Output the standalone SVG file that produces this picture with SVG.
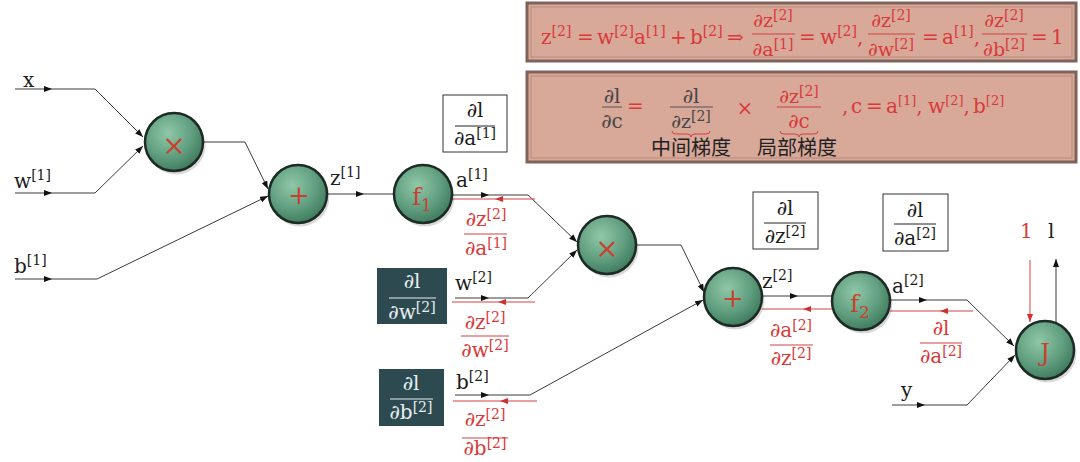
<svg xmlns="http://www.w3.org/2000/svg" width="1080" height="462" viewBox="0 0 1080 462">
<style>
.m{font-family:"DejaVu Serif","Liberation Serif",serif;font-size:20px}
.p{font-size:19px}
.k{fill:#1c1c1c}
.r{fill:#d83a3a}
.g{fill:#474747}
.wt{fill:#e6eef0}
.s{font-size:14px}
.t{font-size:13px}
.c{text-anchor:middle}
.cjk{font-family:"Noto Sans CJK SC",sans-serif;font-size:20px;fill:#222}
.ln{fill:none;stroke:#3a3a3a;stroke-width:1}
.lr{fill:none;stroke:#d04040;stroke-width:1}
.bk{stroke:#222;stroke-width:1}
.br{stroke:#d04040;stroke-width:1}
.bw{stroke:#e6eef0;stroke-width:1}
.node{fill:url(#ng);stroke:#1d2b24;stroke-width:2.5}
.sh{fill:#000;opacity:0.15}
.op{font-family:"DejaVu Serif",serif;fill:#c8402e;text-anchor:middle}
.panel{fill:#d8a899;stroke:#7f635b;stroke-width:3}
.pin{fill:none;stroke:#b68c80;stroke-width:1}
.wbox{fill:#fff;stroke:#333;stroke-width:1}
.dbox{fill:#2d4a50}
</style>
<defs>
<radialGradient id="ng" cx="40%" cy="35%" r="70%">
<stop offset="0" stop-color="#90c8a8"/>
<stop offset="0.6" stop-color="#5f9d7e"/>
<stop offset="1" stop-color="#3c765a"/>
</radialGradient>
<marker id="ab" markerUnits="userSpaceOnUse" markerWidth="10" markerHeight="8" refX="8" refY="3" orient="auto"><path d="M0,0 L8,3 L0,6 z" fill="#111"/></marker>
<marker id="ar" markerUnits="userSpaceOnUse" markerWidth="10" markerHeight="8" refX="8" refY="3" orient="auto"><path d="M0,0 L8,3 L0,6 z" fill="#d03030"/></marker>
</defs>
<rect width="1080" height="462" fill="#fff"/>

<!-- formula panels -->
<g id="panel1">
<rect class="panel" x="527" y="3" width="549" height="58"/>
<rect class="pin" x="531" y="7" width="541" height="50"/>
<text class="m r" x="541" y="44">z<tspan class="s" dy="-8">[2]</tspan><tspan x="577" dy="8">=</tspan><tspan x="597">w</tspan><tspan class="s" dy="-8">[2]</tspan><tspan dy="8">a</tspan><tspan class="s" dy="-8">[1]</tspan><tspan x="670" dy="8">+</tspan><tspan x="690">b</tspan><tspan class="s" dy="-8">[2]</tspan><tspan x="727" dy="8">⇒</tspan></text>
<text class="m p r c" x="773" y="27">∂z<tspan class="s" dy="-7">[2]</tspan></text>
<line class="br" x1="752" y1="34" x2="795" y2="34"/>
<text class="m p r c" x="773" y="56">∂a<tspan class="s" dy="-7">[1]</tspan></text>
<text class="m r" x="799" y="44">=<tspan x="820">w</tspan><tspan class="s" dy="-8">[2]</tspan><tspan dy="8">,</tspan></text>
<text class="m p r c" x="891" y="27">∂z<tspan class="s" dy="-7">[2]</tspan></text>
<line class="br" x1="868" y1="34" x2="915" y2="34"/>
<text class="m p r c" x="891" y="56">∂w<tspan class="s" dy="-7">[2]</tspan></text>
<text class="m r" x="922" y="44">=<tspan x="942">a</tspan><tspan class="s" dy="-8">[1]</tspan><tspan dy="8">,</tspan></text>
<text class="m p r c" x="1004" y="27">∂z<tspan class="s" dy="-7">[2]</tspan></text>
<line class="br" x1="982" y1="34" x2="1027" y2="34"/>
<text class="m p r c" x="1004" y="56">∂b<tspan class="s" dy="-7">[2]</tspan></text>
<text class="m r" x="1031" y="44">=<tspan x="1051">1</tspan></text>
</g>

<g id="panel2">
<rect class="panel" x="527" y="72" width="549" height="90"/>
<rect class="pin" x="531" y="76" width="541" height="82"/>
<text class="m g c" x="612" y="103">∂l</text>
<line class="bk" x1="602" y1="107" x2="622" y2="107" style="stroke:#555"/>
<text class="m g c" x="612" y="128">∂c</text>
<text class="m r" x="627" y="113">=</text>
<text class="m g c" x="691" y="103">∂l</text>
<line class="bk" x1="670" y1="107" x2="713" y2="107" style="stroke:#555"/>
<text class="m p g c" x="691" y="128">∂z<tspan class="s" dy="-7">[2]</tspan></text>
<path class="lr" d="M672,131 Q672,134 676,134 H687 Q691,134 691,137 Q691,134 695,134 H706 Q710,134 710,131"/>
<text class="m r c" x="745" y="115">×</text>
<text class="m p r c" x="799" y="103">∂z<tspan class="s" dy="-7">[2]</tspan></text>
<line class="br" x1="777" y1="107" x2="821" y2="107"/>
<text class="m r c" x="799" y="128">∂c</text>
<path class="lr" d="M780,131 Q780,134 784,134 H795 Q799,134 799,137 Q799,134 803,134 H814 Q818,134 818,131"/>
<text class="m r" x="842" y="113">,<tspan x="851">c</tspan><tspan x="866">=</tspan><tspan x="886">a</tspan><tspan class="t" dy="-8">[1]</tspan><tspan dy="8">,</tspan><tspan x="928">w</tspan><tspan class="t" dy="-8">[2]</tspan><tspan dy="8">,</tspan><tspan x="973">b</tspan><tspan class="t" dy="-8">[2]</tspan></text>
<text class="cjk" x="651" y="155">中间梯度</text>
<text class="cjk" x="757" y="155">局部梯度</text>
</g>

<!-- connectors -->
<g id="connectors">
<path class="ln" d="M15,89 H52" marker-end="url(#ab)"/>
<path class="ln" d="M52,89 H95 L143,137" marker-end="url(#ab)"/>
<path class="ln" d="M15,193 H52" marker-end="url(#ab)"/>
<path class="ln" d="M52,193 H95 L143,146" marker-end="url(#ab)"/>
<path class="ln" d="M203,142 H245 L268,189" marker-end="url(#ab)"/>
<path class="ln" d="M15,279 H52" marker-end="url(#ab)"/>
<path class="ln" d="M52,279 H97 L268,196" marker-end="url(#ab)"/>
<path class="ln" d="M328,194 H364" marker-end="url(#ab)"/>
<path class="ln" d="M364,194 H393"/>
<path class="ln" d="M452,195 H489" marker-end="url(#ab)"/>
<path class="ln" d="M489,195 H528 L577,242" marker-end="url(#ab)"/>
<path class="lr" d="M535,199 H495" marker-end="url(#ar)"/>
<path class="lr" d="M495,199 H452"/>
<path class="ln" d="M455,298 H489" marker-end="url(#ab)"/>
<path class="ln" d="M489,298 H528 L577,250" marker-end="url(#ab)"/>
<path class="lr" d="M535,302 H498" marker-end="url(#ar)"/>
<path class="lr" d="M498,302 H452"/>
<path class="ln" d="M455,395 H489" marker-end="url(#ab)"/>
<path class="ln" d="M489,395 H530 L703,300" marker-end="url(#ab)"/>
<path class="lr" d="M537,401 H500" marker-end="url(#ar)"/>
<path class="lr" d="M500,401 H453"/>
<path class="ln" d="M637,245 H681 L704,292" marker-end="url(#ab)"/>
<path class="ln" d="M762,296 H798" marker-end="url(#ab)"/>
<path class="ln" d="M798,296 H832"/>
<path class="lr" d="M832,309 H803" marker-end="url(#ar)"/>
<path class="lr" d="M803,309 H762"/>
<path class="ln" d="M890,300 H927" marker-end="url(#ab)"/>
<path class="ln" d="M927,300 H967 L1014,346" marker-end="url(#ab)"/>
<path class="lr" d="M973,311 H940" marker-end="url(#ar)"/>
<path class="lr" d="M940,311 H890"/>
<path class="ln" d="M892,405 H925" marker-end="url(#ab)"/>
<path class="ln" d="M925,405 H967 L1015,355" marker-end="url(#ab)"/>
<path class="lr" d="M1030,260 V322" marker-end="url(#ar)"/>
<path class="ln" d="M1056,326 V259" marker-end="url(#ab)"/>
</g>

<!-- edge labels -->
<g id="labels">
<text class="m k" x="23" y="87">x</text>
<text class="m k" x="14" y="188">w<tspan class="s" dy="-8">[1]</tspan></text>
<text class="m k" x="14" y="273">b<tspan class="s" dy="-8">[1]</tspan></text>
<text class="m k" x="330" y="185">z<tspan class="s" dy="-8">[1]</tspan></text>
<text class="m k" x="456" y="187">a<tspan class="s" dy="-8">[1]</tspan></text>
<text class="m k" x="455" y="290">w<tspan class="s" dy="-8">[2]</tspan></text>
<text class="m k" x="456" y="389">b<tspan class="s" dy="-8">[2]</tspan></text>
<text class="m k" x="762" y="288">z<tspan class="s" dy="-8">[2]</tspan></text>
<text class="m k" x="892" y="293">a<tspan class="s" dy="-8">[2]</tspan></text>
<text class="m k" x="901" y="397">y</text>
<text class="m r" x="1020" y="238">1</text>
<text class="m k" x="1048" y="238">l</text>
<text class="m r c" x="486" y="226">∂z<tspan class="s" dy="-7">[2]</tspan></text>
<line class="br" x1="464" y1="234" x2="507" y2="234"/>
<text class="m r c" x="486" y="255">∂a<tspan class="s" dy="-7">[1]</tspan></text>
<text class="m r c" x="485" y="329">∂z<tspan class="s" dy="-7">[2]</tspan></text>
<line class="br" x1="461" y1="336" x2="509" y2="336"/>
<text class="m r c" x="485" y="357">∂w<tspan class="s" dy="-7">[2]</tspan></text>
<text class="m r c" x="485" y="426">∂z<tspan class="s" dy="-7">[2]</tspan></text>
<line class="br" x1="462" y1="438" x2="508" y2="438"/>
<text class="m r c" x="485" y="455">∂b<tspan class="s" dy="-7">[2]</tspan></text>
<text class="m r c" x="791" y="337">∂a<tspan class="s" dy="-7">[2]</tspan></text>
<line class="br" x1="770" y1="345" x2="813" y2="345"/>
<text class="m r c" x="791" y="365">∂z<tspan class="s" dy="-7">[2]</tspan></text>
<text class="m r c" x="941" y="335">∂l</text>
<line class="br" x1="920" y1="343" x2="962" y2="343"/>
<text class="m r c" x="941" y="363">∂a<tspan class="s" dy="-7">[2]</tspan></text>
</g>

<!-- gradient boxes -->
<g id="box-da1">
<rect class="wbox" x="443" y="95" width="64" height="57"/>
<text class="m k c" x="475" y="117">∂l</text>
<line class="bk" x1="455" y1="126" x2="495" y2="126"/>
<text class="m k c" x="475" y="145">∂a<tspan class="s" dy="-7">[1]</tspan></text>
</g>
<g id="box-dw2">
<rect class="dbox" x="377" y="268" width="70" height="56"/>
<text class="m wt c" x="412" y="288">∂l</text>
<line class="bw" x1="389" y1="298" x2="436" y2="298"/>
<text class="m wt c" x="412" y="319">∂w<tspan class="s" dy="-7">[2]</tspan></text>
</g>
<g id="box-db2">
<rect class="dbox" x="379" y="369" width="65" height="57"/>
<text class="m wt c" x="411" y="390">∂l</text>
<line class="bw" x1="390" y1="399" x2="433" y2="399"/>
<text class="m wt c" x="411" y="419">∂b<tspan class="s" dy="-7">[2]</tspan></text>
</g>
<g id="box-dz2">
<rect class="wbox" x="753" y="192" width="65" height="57"/>
<text class="m k c" x="785" y="215">∂l</text>
<line class="bk" x1="764" y1="223" x2="806" y2="223"/>
<text class="m k c" x="785" y="243">∂z<tspan class="s" dy="-7">[2]</tspan></text>
</g>
<g id="box-da2">
<rect class="wbox" x="883" y="194" width="65" height="57"/>
<text class="m k c" x="915" y="217">∂l</text>
<line class="bk" x1="894" y1="224" x2="936" y2="224"/>
<text class="m k c" x="915" y="245">∂a<tspan class="s" dy="-7">[2]</tspan></text>
</g>

<!-- nodes -->
<g id="mul1">
<circle class="sh" cx="176" cy="145" r="29.5"/>
<circle class="node" cx="174" cy="142" r="29"/>
<text class="op" x="174" y="155" font-size="28">×</text>
</g>
<g id="add1">
<circle class="sh" cx="300" cy="197" r="29.5"/>
<circle class="node" cx="298" cy="194" r="29"/>
<text class="op" x="299" y="204" font-size="26">+</text>
</g>
<g id="f1">
<circle class="sh" cx="425" cy="197" r="29.5"/>
<circle class="node" cx="423" cy="194" r="29"/>
<text class="op" x="422" y="205" font-size="24">f<tspan font-size="17" dy="6">1</tspan></text>
</g>
<g id="mul2">
<circle class="sh" cx="609" cy="248" r="29.5"/>
<circle class="node" cx="607" cy="245" r="29"/>
<text class="op" x="607" y="258" font-size="28">×</text>
</g>
<g id="add2">
<circle class="sh" cx="735" cy="300" r="29.5"/>
<circle class="node" cx="733" cy="297" r="29"/>
<text class="op" x="733" y="307" font-size="26">+</text>
</g>
<g id="f2">
<circle class="sh" cx="863" cy="304" r="29.5"/>
<circle class="node" cx="861" cy="301" r="29"/>
<text class="op" x="860" y="312" font-size="24">f<tspan font-size="17" dy="6">2</tspan></text>
</g>
<g id="J">
<circle class="sh" cx="1047" cy="353" r="29.5"/>
<circle class="node" cx="1045" cy="350" r="29"/>
<text class="op" x="1045" y="361" font-size="24">J</text>
</g>
</svg>
